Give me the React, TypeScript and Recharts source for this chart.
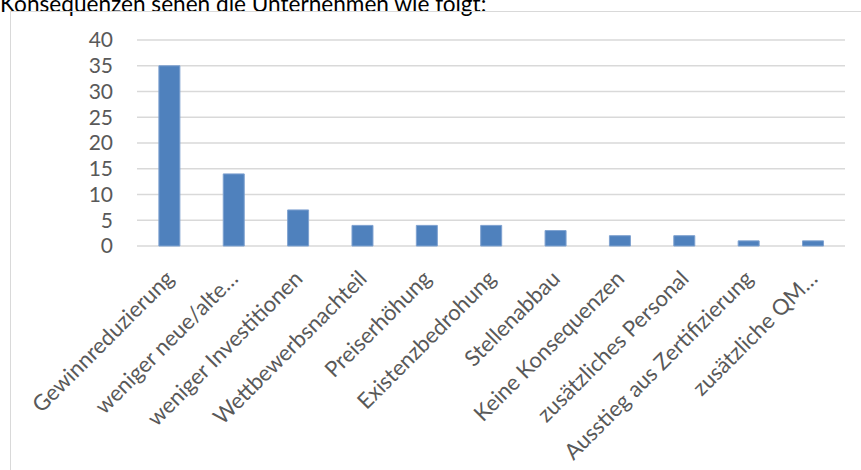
import React from 'react';
import { BarChart, Bar, XAxis, YAxis, CartesianGrid } from 'recharts';

const categories = [
  'Gewinnreduzierung',
  'weniger neue/alte…',
  'weniger Investitionen',
  'Wettbewerbsnachteil',
  'Preiserhöhung',
  'Existenzbedrohung',
  'Stellenabbau',
  'Keine Konsequenzen',
  'zusätzliches Personal',
  'Ausstieg aus Zertifizierung',
  'zusätzliche QM…',
];
const values = [35, 14, 7, 4, 4, 4, 3, 2, 2, 1, 1];
const yTicks = [0, 5, 10, 15, 20, 25, 30, 35, 40];
const heading = 'Konsequenzen sehen die Unternehmen wie folgt:';

const data = categories.map((name, i) => ({ name, value: values[i] }));

const FONT = 'Lato, "Open Sans", sans-serif';

const XTick = (props: any) => {
  const { x, y, payload } = props;
  return (
    <text
      transform={`translate(${x + 6},${y + 34}) rotate(-45)`}
      textAnchor="end"
      fill="#595959"
      fontSize={22}
      fontFamily={FONT}
    >
      {payload.value}
    </text>
  );
};

export default function App() {
  return (
    <div
      style={{
        position: 'absolute',
        top: 0,
        left: 0,
        width: 861,
        height: 470,
        overflow: 'hidden',
        background: '#fff',
      }}
    >
      <div
        style={{
          position: 'absolute',
          left: 0,
          top: -8,
          fontSize: 22.6,
          lineHeight: '23px',
          fontFamily: FONT,
          color: '#000',
          whiteSpace: 'nowrap',
        }}
      >
        {heading}
      </div>
      <div
        style={{
          position: 'absolute',
          left: 10,
          top: 11,
          width: 900,
          height: 500,
          border: '1.5px solid #d9d9d9',
        }}
      />
      <div style={{ position: 'absolute', left: 0, top: 0 }}>
        <BarChart
          width={861}
          height={470}
          data={data}
          margin={{ top: 40, right: 16, left: 0, bottom: 0 }}
          barCategoryGap="34%"
        >
          <CartesianGrid vertical={false} stroke="#d9d9d9" strokeWidth={1.5} />
          <YAxis
            width={137}
            domain={[0, 40]}
            ticks={yTicks}
            axisLine={false}
            tickLine={false}
            tickSize={0}
            tickMargin={24}
            interval={0}
            tick={{ fill: '#595959', fontSize: 21, fontFamily: FONT }}
          />
          <XAxis
            dataKey="name"
            height={224}
            interval={0}
            axisLine={false}
            tickLine={false}
            tickSize={0}
            tickMargin={0}
            tick={<XTick />}
          />
          <Bar dataKey="value" fill="#4F81BD" stroke="#7FA2D0" strokeWidth={1} isAnimationActive={false} />
        </BarChart>
      </div>
    </div>
  );
}
